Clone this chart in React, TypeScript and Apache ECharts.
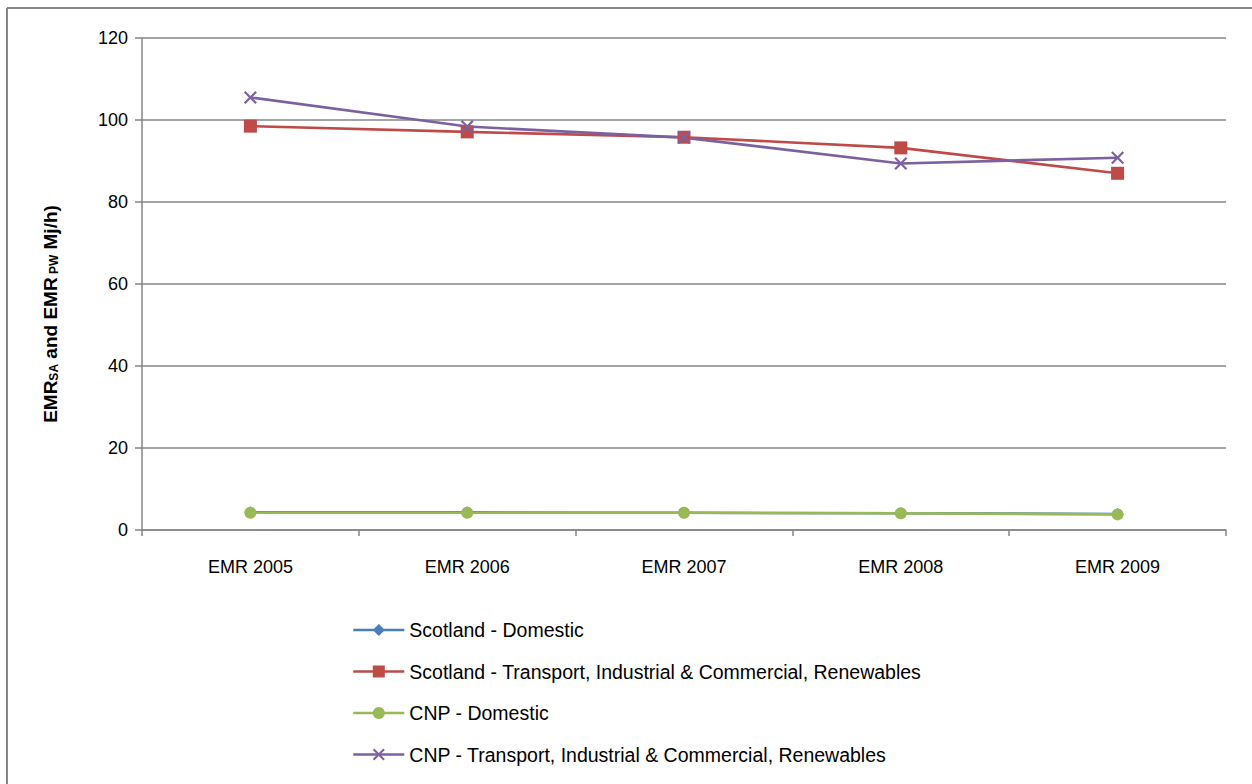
import React, { useEffect, useRef } from "react";
import * as echarts from "echarts";

// Emission rates per year (Mj/h)
const categories = ["EMR 2005", "EMR 2006", "EMR 2007", "EMR 2008", "EMR 2009"];
const scotlandDomestic = [4.3, 4.3, 4.2, 4.1, 3.9];
const scotlandTIC = [98.5, 97.1, 95.8, 93.2, 87.0];
const cnpDomestic = [4.2, 4.2, 4.2, 4.1, 3.8];
const cnpTIC = [105.5, 98.4, 95.7, 89.4, 90.8];
const yTicks = { min: 0, max: 120, interval: 20 };

const FONT = "'Liberation Sans', Arial, sans-serif";
const GRID_COLOR = "#868686";
const CROSS = "path://M0,1.2L1.2,0L5,3.8L8.8,0L10,1.2L6.2,5L10,8.8L8.8,10L5,6.2L1.2,10L0,8.8L3.8,5Z";

export default function App() {
  const ref = useRef<HTMLDivElement>(null);

  useEffect(() => {
    if (!ref.current) return;
    const chart = echarts.init(ref.current, undefined, { renderer: "svg" });

    const lineSeries = (name: string, data: number[], color: string, symbol: string, size: number) => ({
      name,
      type: "line",
      data,
      symbol,
      symbolSize: size,
      showSymbol: true,
      lineStyle: { color, width: 2.6 },
      itemStyle: { color, borderWidth: 0 },
      emphasis: { disabled: true },
    });

    chart.setOption({
      animation: false,
      backgroundColor: "#ffffff",
      textStyle: { fontFamily: FONT },
      grid: { left: 142, right: 26, top: 38, bottom: 254, containLabel: false },
      xAxis: {
        type: "category",
        data: categories,
        boundaryGap: true,
        axisLine: { lineStyle: { color: GRID_COLOR, width: 1.5 } },
        axisTick: { show: true, length: 6, alignWithLabel: false, lineStyle: { color: GRID_COLOR, width: 1.5 } },
        axisLabel: { color: "#000", fontSize: 18, fontFamily: FONT, margin: 28 },
      },
      yAxis: {
        type: "value",
        min: yTicks.min,
        max: yTicks.max,
        interval: yTicks.interval,
        axisLine: { show: true, lineStyle: { color: GRID_COLOR, width: 1.5 } },
        axisTick: { show: true, length: 7, inside: false, lineStyle: { color: GRID_COLOR, width: 1.5 } },
        splitLine: { show: true, lineStyle: { color: GRID_COLOR, width: 1.5 } },
        axisLabel: { color: "#000", fontSize: 18, fontFamily: FONT, margin: 14 },
      },
      legend: {
        orient: "vertical",
        left: 352,
        top: 620,
        padding: 0,
        itemWidth: 51,
        itemHeight: 15,
        itemGap: 21.5,
        selectedMode: false,
        lineStyle: { width: 2.6 },
        textStyle: { color: "#000", fontSize: 19.5, fontFamily: FONT, lineHeight: 20, padding: [0, 0, 0, 0] },
        data: [
          "Scotland - Domestic",
          "Scotland - Transport, Industrial & Commercial, Renewables",
          "CNP - Domestic",
          "CNP - Transport, Industrial & Commercial, Renewables",
        ],
      },
      graphic: [
        { type: "line", shape: { x1: 7, y1: 8, x2: 1252, y2: 8 }, style: { stroke: GRID_COLOR, lineWidth: 2 } },
        { type: "line", shape: { x1: 7, y1: 8, x2: 7, y2: 784 }, style: { stroke: GRID_COLOR, lineWidth: 2 } },
        {
          type: "text",
          x: 48,
          y: 314,
          rotation: Math.PI / 2,
          style: {
            text: "{b|EMR}{s|SA}{b| and EMR}{s| PW}{b| Mj/h)}",
            align: "center",
            verticalAlign: "middle",
            fill: "#000",
            rich: {
              b: { fontSize: 19, fontWeight: "bold", fill: "#000", fontFamily: FONT, verticalAlign: "bottom", lineHeight: 24 },
              s: { fontSize: 12, fontWeight: "bold", fill: "#000", fontFamily: FONT, verticalAlign: "bottom", lineHeight: 16 },
            },
          },
        },
      ],
      series: [
        lineSeries("Scotland - Domestic", scotlandDomestic, "#4A7EBB", "diamond", 12),
        lineSeries("Scotland - Transport, Industrial & Commercial, Renewables", scotlandTIC, "#BE4B48", "rect", 13),
        lineSeries("CNP - Domestic", cnpDomestic, "#98B954", "circle", 12),
        lineSeries("CNP - Transport, Industrial & Commercial, Renewables", cnpTIC, "#7D60A0", CROSS, 13),
      ],
    });

    return () => chart.dispose();
  }, []);

  return (
    <div
      ref={ref}
      style={{ position: "fixed", left: 0, top: 0, width: 1252, height: 784, background: "#fff" }}
    />
  );
}
